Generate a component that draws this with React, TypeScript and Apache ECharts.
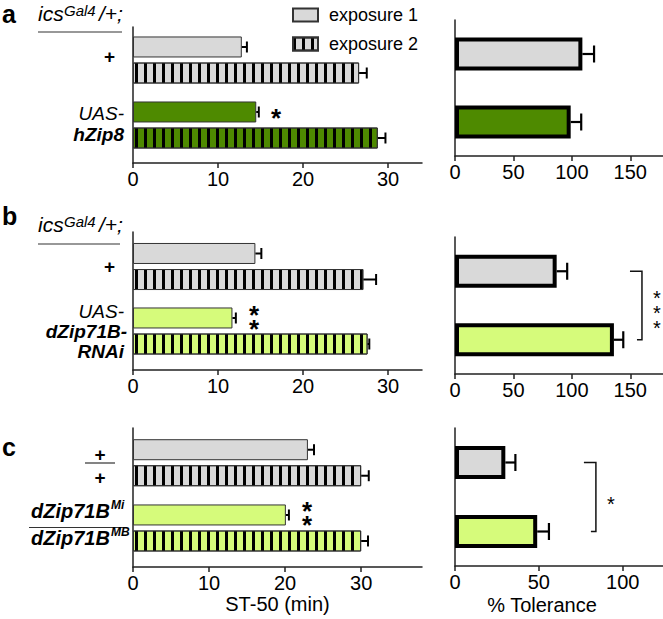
import React, { useEffect, useRef } from 'react';
import * as echarts from 'echarts';

// ---------- data ----------
const GROUPS_A = ['+', 'UAS-hZip8'];
const GROUPS_B = ['+', 'UAS-dZip71B-RNAi'];
const GROUPS_C = ['+/+', 'dZip71B Mi/MB'];

const A_EXP1 = [12.8, 14.5];
const A_EXP1_HI = [13.4, 14.8];
const A_EXP2 = [26.6, 28.8];
const A_EXP2_HI = [27.5, 29.7];
const A_TOL = [109, 99];
const A_TOL_HI = [119, 108];

const B_EXP1 = [14.4, 11.7];
const B_EXP1_HI = [15.1, 12.1];
const B_EXP2 = [27.1, 27.6];
const B_EXP2_HI = [28.6, 27.8];
const B_TOL = [87, 136];
const B_TOL_HI = [96, 144];

const C_EXP1 = [23.0, 20.1];
const C_EXP1_HI = [23.8, 20.5];
const C_EXP2 = [30.0, 30.0];
const C_EXP2_HI = [31.0, 30.9];
const C_TOL = [30, 49];
const C_TOL_HI = [36, 56];

const ST50_TICKS = [0, 10, 20, 30];
const TOL_TICKS_AB = [0, 50, 100, 150];
const TOL_TICKS_C = [0, 50, 100];

const BRACKET_B = [160, 0, 1];
const BRACKET_C = [84, 0, 1];

// ---------- style ----------
const FONT = 'Liberation Sans, Arial, sans-serif';
const GRAY = '#d9d9d9';
const DARK_GREEN = '#4e8a00';
const LIGHT_GREEN = '#d6fb7b';
const AXIS_COLOR = '#222';
const COLORS_A = [GRAY, DARK_GREEN];
const COLORS_BC = [GRAY, LIGHT_GREEN];
const STRIPES = {
  symbol: 'rect',
  symbolSize: 1,
  dashArrayX: [3, 6],
  dashArrayY: [10, 0],
  color: '#000',
  rotation: 0,
};
const LEFT_BAR_W = 21;
const LEFT_HALF_OFF = 13;

function leftGrids(top: number, height: number, axTop: number, axHeight: number) {
  return [
    { left: 133, width: 289, top, height },
    { left: 133, width: 289, top: axTop, height: axHeight },
  ];
}

function errSeries(xi: number, means: number[], highs: number[], offset: number, capH: number, lw: number) {
  return {
    type: 'custom',
    xAxisIndex: xi,
    yAxisIndex: xi,
    silent: true,
    z: 5,
    data: means.map((m, i) => [m, i, highs[i]]),
    encode: { x: [0, 2], y: 1 },
    renderItem: (params: any, api: any) => {
      const s = api.coord([api.value(0), api.value(1)]);
      const e = api.coord([api.value(2), api.value(1)]);
      const y = s[1] + offset;
      const st = { stroke: '#000', lineWidth: lw };
      return {
        type: 'group',
        children: [
          { type: 'line', shape: { x1: s[0], y1: y, x2: e[0], y2: y }, style: st },
          { type: 'line', shape: { x1: e[0], y1: y - capH / 2, x2: e[0], y2: y + capH / 2 }, style: st },
        ],
      };
    },
  };
}

function bracketSeries(xi: number, br: number[], text: string, lineH: number) {
  return {
    type: 'custom',
    xAxisIndex: xi,
    yAxisIndex: xi,
    silent: true,
    z: 5,
    data: [br],
    encode: { x: 0, y: [1, 2] },
    renderItem: (params: any, api: any) => {
      const p0 = api.coord([api.value(0), api.value(1)]);
      const p1 = api.coord([api.value(0), api.value(2)]);
      const x = p0[0];
      return {
        type: 'group',
        children: [
          {
            type: 'polyline',
            shape: { points: [[x - 12, p0[1]], [x, p0[1]], [x, p1[1]], [x - 5, p1[1]]] },
            style: { stroke: '#111', lineWidth: 1.5, fill: 'none' },
          },
          {
            type: 'text',
            x: x + 15,
            y: (p0[1] + p1[1]) / 2 + 7,
            style: {
              text,
              font: `20px ${FONT}`,
              lineHeight: lineH,
              fill: '#000',
              align: 'center',
              verticalAlign: 'middle',
            },
          },
        ],
      };
    },
  };
}

function leftBars(xi: number, e1: number[], e2: number[], colors: string[]) {
  const base = { color: GRAY, borderColor: '#333', borderWidth: 1 };
  return [
    {
      type: 'bar',
      name: 'exposure 1',
      xAxisIndex: xi,
      yAxisIndex: xi,
      barWidth: LEFT_BAR_W,
      barGap: '24%',
      itemStyle: base,
      data: e1.map((v, i) => ({ value: v, itemStyle: { color: colors[i] } })),
    },
    {
      type: 'bar',
      name: 'exposure 2',
      xAxisIndex: xi,
      yAxisIndex: xi,
      barWidth: LEFT_BAR_W,
      barGap: '24%',
      itemStyle: { ...base, decal: STRIPES },
      data: e2.map((v, i) => ({ value: v, itemStyle: { color: colors[i] } })),
    },
  ];
}

function tolBars(xi: number, vals: number[], colors: string[]) {
  return {
    type: 'bar',
    name: 'tolerance',
    xAxisIndex: xi,
    yAxisIndex: xi,
    barWidth: 33,
    itemStyle: { color: GRAY, borderColor: '#000', borderWidth: 4 },
    data: vals.map((v, i) => ({ value: v, itemStyle: { color: colors[i] } })),
  };
}

const axisLineStyle = { show: true, lineStyle: { color: AXIS_COLOR, width: 1.5 } };
const tickStyle = (vals: number[]) => ({
  show: true,
  length: 5,
  customValues: vals,
  lineStyle: { color: AXIS_COLOR, width: 1.5 },
});
const labelStyle = (vals: number[]) => ({
  show: true,
  customValues: vals,
  fontSize: 20,
  fontFamily: FONT,
  color: '#000',
  margin: 6,
});

function hiddenX(gi: number, max: number) {
  return { type: 'value', gridIndex: gi, min: 0, max, show: false, splitLine: { show: false } };
}
function hiddenY(gi: number, cats: string[]) {
  return { type: 'category', gridIndex: gi, data: cats, inverse: true, show: false };
}
function visX(gi: number, max: number, ticks: number[], extra: any = {}) {
  return {
    type: 'value',
    gridIndex: gi,
    min: 0,
    max,
    splitLine: { show: false },
    axisLine: axisLineStyle,
    axisTick: tickStyle(ticks),
    axisLabel: labelStyle(ticks),
    ...extra,
  };
}
function visY(gi: number, cats: string[]) {
  return {
    type: 'category',
    gridIndex: gi,
    data: cats,
    inverse: true,
    axisLine: axisLineStyle,
    axisTick: { show: false },
    axisLabel: { show: false },
  };
}

function txt(x: number, y: number, text: string, font: string, align = 'left', extra: any = {}) {
  return {
    type: 'text',
    x,
    y,
    style: { text, font, fill: '#000', align, verticalAlign: 'middle', ...extra },
  };
}
function hline(x1: number, x2: number, y: number) {
  return { type: 'line', shape: { x1, y1: y, x2, y2: y }, style: { stroke: '#333', lineWidth: 1.2 } };
}

export default function App() {
  const ref = useRef<HTMLDivElement>(null);
  useEffect(() => {
    document.body.style.margin = '0';
    const chart = echarts.init(ref.current!, undefined, { renderer: 'svg' });
    const IT = `italic 21px ${FONT}`;
    const ITS = `italic 15px ${FONT}`;
    const BI = `italic bold 19px ${FONT}`;
    const I19 = `italic 19px ${FONT}`;
    const B19 = `bold 19px ${FONT}`;
    const LET = `bold 25px ${FONT}`;
    const STAR = `bold 26px ${FONT}`;
    const option: any = {
      animation: false,
      backgroundColor: '#fff',
      legend: {
        orient: 'vertical',
        left: 287,
        top: 1,
        icon: 'rect',
        itemWidth: 25,
        itemHeight: 13,
        itemGap: 11,
        data: ['exposure 1', 'exposure 2'],
        selectedMode: false,
        textStyle: { fontSize: 18, fontFamily: FONT, color: '#000', padding: [0, 0, 0, 6] },
      },
      grid: [
        ...leftGrids(27.5, 130, 27, 136),
        { left: 455, width: 208, top: 20, height: 136 },
        ...leftGrids(234.25, 129, 232, 138),
        { left: 455, width: 208, top: 237, height: 137 },
        ...leftGrids(430.1, 130.5, 428, 139),
        { left: 455, width: 208, top: 428, height: 138 },
      ],
      xAxis: [
        hiddenX(0, 34),
        visX(1, 34, ST50_TICKS),
        visX(2, 178, TOL_TICKS_AB),
        hiddenX(3, 34),
        visX(4, 34, ST50_TICKS),
        visX(5, 178, TOL_TICKS_AB),
        hiddenX(6, 38),
        visX(7, 38, ST50_TICKS, {
          name: 'ST-50 (min)',
          nameLocation: 'middle',
          nameGap: 23,
          nameTextStyle: { fontSize: 20, fontFamily: FONT, color: '#000' },
        }),
        visX(8, 124, TOL_TICKS_C),
      ],
      yAxis: [
        hiddenY(0, GROUPS_A),
        visY(1, ['']),
        visY(2, GROUPS_A),
        hiddenY(3, GROUPS_B),
        visY(4, ['']),
        visY(5, GROUPS_B),
        hiddenY(6, GROUPS_C),
        visY(7, ['']),
        visY(8, GROUPS_C),
      ],
      series: [
        ...leftBars(0, A_EXP1, A_EXP2, COLORS_A),
        errSeries(0, A_EXP1, A_EXP1_HI, -LEFT_HALF_OFF, 11, 2),
        errSeries(0, A_EXP2, A_EXP2_HI, LEFT_HALF_OFF, 11, 2),
        tolBars(2, A_TOL, COLORS_A),
        errSeries(2, A_TOL, A_TOL_HI, 0, 17, 2.2),

        ...leftBars(3, B_EXP1, B_EXP2, COLORS_BC),
        errSeries(3, B_EXP1, B_EXP1_HI, -LEFT_HALF_OFF, 11, 2),
        errSeries(3, B_EXP2, B_EXP2_HI, LEFT_HALF_OFF, 11, 2),
        tolBars(5, B_TOL, COLORS_BC),
        errSeries(5, B_TOL, B_TOL_HI, 0, 17, 2.2),
        bracketSeries(5, BRACKET_B, '*\n*\n*', 15),

        ...leftBars(6, C_EXP1, C_EXP2, COLORS_BC),
        errSeries(6, C_EXP1, C_EXP1_HI, -LEFT_HALF_OFF, 11, 2),
        errSeries(6, C_EXP2, C_EXP2_HI, LEFT_HALF_OFF, 11, 2),
        tolBars(8, C_TOL, COLORS_BC),
        errSeries(8, C_TOL, C_TOL_HI, 0, 17, 2.2),
        bracketSeries(8, BRACKET_C, '*', 15),
      ],
      graphic: [
        // panel a
        txt(2, 14, 'a', LET),
        txt(38, 13.5, 'ics', IT),
        txt(64, 10, 'Gal4', ITS),
        txt(99, 13.5, '/+;', IT),
        hline(38, 122, 32),
        txt(104, 56, '+', B19),
        txt(124, 113.5, 'UAS-', I19, 'right'),
        txt(124, 134.5, 'hZip8', BI, 'right'),
        txt(276, 118, '*', STAR, 'center'),
        // panel b
        txt(2, 216, 'b', LET),
        txt(38, 224.5, 'ics', IT),
        txt(64, 221, 'Gal4', ITS),
        txt(99, 224.5, '/+;', IT),
        hline(38, 120, 244),
        txt(104, 266, '+', B19),
        txt(124, 311, 'UAS-', I19, 'right'),
        txt(127, 331.5, 'dZip71B-', BI, 'right'),
        txt(124, 351.5, 'RNAi', BI, 'right'),
        txt(254, 322, '*\n*', STAR, 'center', { lineHeight: 14 }),
        // panel c
        txt(2, 447, 'c', LET),
        txt(100, 454, '+', B19, 'center'),
        hline(85, 115, 463),
        txt(100, 477, '+', B19, 'center'),
        txt(31, 510.5, 'dZip71B', `italic bold 20px ${FONT}`),
        txt(111, 505, 'Mi', `italic bold 12px ${FONT}`),
        hline(29, 126, 527.5),
        txt(31, 537.5, 'dZip71B', `italic bold 20px ${FONT}`),
        txt(111, 532, 'MB', `italic bold 12px ${FONT}`),
        txt(307, 518, '*\n*', STAR, 'center', { lineHeight: 14 }),
        txt(542, 605, '% Tolerance', `20px ${FONT}`, 'center'),
      ],
    };
    chart.setOption(option);
    return () => chart.dispose();
  }, []);
  return <div ref={ref} style={{ width: 663, height: 619 }} />;
}
